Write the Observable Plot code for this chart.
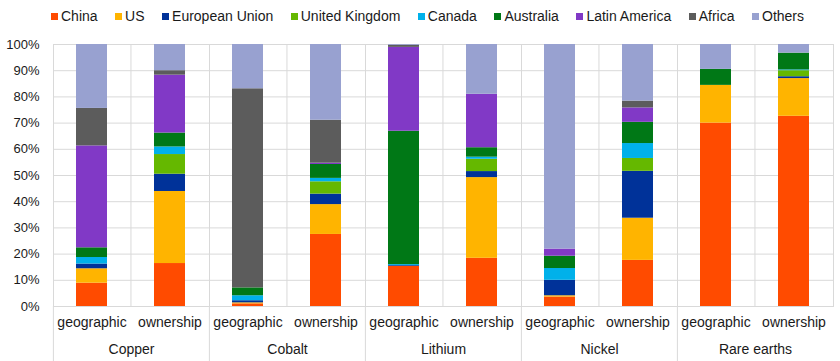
<!DOCTYPE html>
<html>
<head>
<meta charset="utf-8">
<script src="https://cdn.jsdelivr.net/npm/d3@7"></script>
<script src="https://cdn.jsdelivr.net/npm/@observablehq/plot@0.6"></script>
<style>
  html, body { margin: 0; padding: 0; background: #fff; }
  body { width: 840px; height: 361px; overflow: hidden; font-family: "Liberation Sans", Arial, sans-serif; }
  #legend { height: 32px; padding-left: 51px; box-sizing: border-box; }
  #legend .lg-swatches { font-family: "Liberation Sans", Arial, sans-serif !important; font-size: 14px !important; color: #1a1a1a; margin: 0 !important; min-height: 32px !important; height: 32px; display: flex; align-items: center; flex-wrap: nowrap !important; }
  #legend .lg-swatch { margin-right: 17.5px !important; display: inline-flex; align-items: center; }
  #legend .lg-swatch > svg { margin-right: 3px !important; }
  #chart svg { display: block; }
</style>
</head>
<body>
<div id="legend"></div>
<div id="chart"></div>
<script>
const metals = ["Copper", "Cobalt", "Lithium", "Nickel", "Rare earths"];
const types = ["geographic", "ownership"];
const regions = ["China", "US", "European Union", "United Kingdom", "Canada", "Australia", "Latin America", "Africa", "Others"];
const colors = ["#FF4B00", "#FFB400", "#003299", "#65B800", "#00B1EA", "#007816", "#8139C6", "#5C5C5C", "#98A1D0"];

// shares in %, in the order of `regions`
const copperGeographic    = [8.9, 5.5, 1.8, 0, 2.5, 3.7, 38.9, 14.3, 24.4];
const copperOwnership     = [16.4, 27.5, 6.6, 7.5, 2.9, 5.3, 22.1, 1.7, 10.0];
const cobaltGeographic    = [1.0, 0.4, 0.8, 0, 1.9, 3.0, 0, 76.0, 16.9];
const cobaltOwnership     = [27.5, 11.4, 4.0, 4.7, 1.3, 5.3, 0.5, 16.4, 28.9];
const lithiumGeographic   = [15.3, 0, 0.3, 0, 0.4, 50.9, 32.0, 0.8, 0.3];
const lithiumOwnership    = [18.4, 30.8, 2.3, 4.7, 0.8, 3.6, 20.4, 0, 19.0];
const nickelGeographic    = [3.6, 0.5, 5.9, 0, 4.5, 4.7, 2.7, 0, 78.1];
const nickelOwnership     = [17.6, 16.1, 17.9, 4.9, 5.7, 8.1, 5.5, 2.6, 21.6];
const rareGeographic      = [70.0, 14.4, 0, 0, 0, 6.1, 0, 0, 9.5];
const rareOwnership       = [72.6, 14.4, 0.7, 2.3, 0.3, 6.4, 0, 0, 3.3];

const series = [
  ["Copper", "geographic", copperGeographic], ["Copper", "ownership", copperOwnership],
  ["Cobalt", "geographic", cobaltGeographic], ["Cobalt", "ownership", cobaltOwnership],
  ["Lithium", "geographic", lithiumGeographic], ["Lithium", "ownership", lithiumOwnership],
  ["Nickel", "geographic", nickelGeographic], ["Nickel", "ownership", nickelOwnership],
  ["Rare earths", "geographic", rareGeographic], ["Rare earths", "ownership", rareOwnership]
];

const rows = [];
for (const [metal, type, vals] of series) {
  regions.forEach((r, i) => rows.push({metal, type, region: r, share: vals[i] / 100}));
}

const grid = "#d9d9d9";
const ink = "#1a1a1a";

const legend = Plot.legend({
  color: {domain: regions, range: colors, type: "ordinal"},
  swatchSize: 7,
  className: "lg"
});
document.getElementById("legend").append(legend);

const chart = Plot.plot({
  width: 840,
  height: 329,
  marginTop: 12,
  marginBottom: 55,
  marginLeft: 52,
  marginRight: 7,
  style: {fontFamily: "Liberation Sans, Arial, sans-serif", fontSize: "14px", color: ink, background: "#fff"},
  fx: {domain: metals, padding: 0},
  x: {domain: types, paddingInner: 0.6, paddingOuter: 0.3},
  y: {domain: [0, 1]},
  color: {domain: regions, range: colors},
  marks: [
    Plot.gridY({ticks: 10, stroke: grid, strokeOpacity: 1, strokeWidth: 1}),
    Plot.ruleX(["ownership"], {dx: -39.05, stroke: grid, strokeWidth: 1}),
    Plot.frame({stroke: grid, strokeWidth: 1}),
    Plot.barY(rows, {fx: "metal", x: "type", y: "share", fill: "region", order: null}),
    Plot.axisY({ticks: 10, tickSize: 0, tickPadding: 14, tickFormat: d3.format(".0%"), fontSize: 13, fill: ink, label: null}),
    Plot.axisX({tickSize: 0, tickPadding: 11, fill: ink, label: null}),
    Plot.axisFx({anchor: "bottom", tickSize: 0, tickPadding: 38, fill: ink, label: null}),
    Plot.axisFx({anchor: "bottom", tickSize: 55, dx: -78.1, stroke: grid, strokeOpacity: 1, tickFormat: () => "", label: null})
  ]
});
document.getElementById("chart").append(chart);
</script>
</body>
</html>
